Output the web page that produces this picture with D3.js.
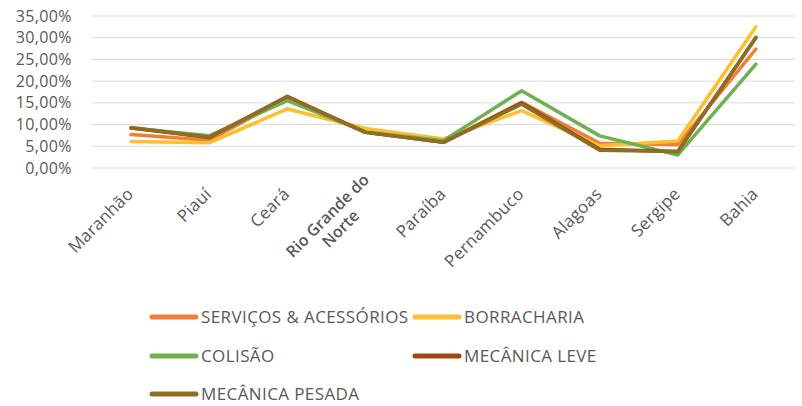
<!DOCTYPE html>
<html>
<head>
<meta charset="utf-8">
<script src="https://cdn.jsdelivr.net/npm/d3@7"></script>
<style>
  html, body { margin: 0; padding: 0; background: #fff; }
  svg { display: block; }
  text { font-family: "Open Sans", "Noto Sans", sans-serif; fill: #595959; }
</style>
</head>
<body>
<svg id="chart" width="802" height="406"></svg>
<script>
// States of the Northeast region
const categories = ["Maranhão", "Piauí", "Ceará", "Rio Grande do Norte", "Paraíba",
                    "Pernambuco", "Alagoas", "Sergipe", "Bahia"];

// Share per state (%) for each service segment
const servicosAcessorios = [7.7, 6.4, 16.2, 8.3, 6.0, 15.1, 5.7, 5.4, 27.4];
const borracharia        = [6.1, 5.8, 13.6, 9.1, 6.7, 13.2, 5.1, 6.2, 32.5];
const colisao            = [9.2, 7.4, 15.5, 8.3, 6.3, 17.8, 7.4, 3.0, 23.9];
const mecanicaLeve       = [9.2, 7.0, 16.5, 8.2, 5.9, 15.0, 4.3, 3.8, 30.0];
const mecanicaPesada     = [9.3, 7.1, 16.4, 8.2, 5.9, 14.7, 4.1, 3.8, 30.1];

const seriesNames  = ["SERVIÇOS & ACESSÓRIOS", "BORRACHARIA", "COLISÃO", "MECÂNICA LEVE", "MECÂNICA PESADA"];
const seriesValues = [servicosAcessorios, borracharia, colisao, mecanicaLeve, mecanicaPesada];
const seriesColors = ["#F07F35", "#FDBF2D", "#6FB04F", "#9E480E", "#8E6D24"];

const yTicks = [0, 5, 10, 15, 20, 25, 30, 35];

const svg = d3.select("#chart");
const plot = { left: 92, right: 795, top: 16, bottom: 168 };

const x = d3.scalePoint()
  .domain(categories)
  .range([plot.left, plot.right])
  .padding(0.5);

const y = d3.scaleLinear()
  .domain([0, 35])
  .range([plot.bottom, plot.top]);

const fmt = v => d3.format(".2f")(v).replace(".", ",") + "%";

// Horizontal gridlines
svg.append("g")
  .selectAll("line")
  .data(yTicks)
  .join("line")
  .attr("x1", plot.left).attr("x2", plot.right)
  .attr("y1", d => y(d)).attr("y2", d => y(d))
  .attr("stroke", "#D9D9D9")
  .attr("stroke-width", 1);

// Y axis labels
const yAxis = d3.axisLeft(y).tickValues(yTicks).tickFormat(fmt).tickSize(0).tickPadding(20);
const gy = svg.append("g").attr("transform", `translate(${plot.left},0)`).call(yAxis);
gy.select(".domain").remove();
gy.selectAll("text")
  .style("font-size", "16px")
  .style("letter-spacing", "0.4px")
  .style("fill", "#595959")
  .attr("font-family", null);

// Category labels, rotated
const gx = svg.append("g");
categories.forEach(c => {
  const bold = c === "Rio Grande do Norte";
  const lines = bold ? ["Rio Grande do", "Norte"] : [c];
  const t = gx.append("text")
    .attr("transform", bold
      ? `translate(${x(c) + 6},${plot.bottom + 14}) rotate(-45)`
      : `translate(${x(c) - 1},${plot.bottom + 23}) rotate(-45)`)
    .attr("text-anchor", "end")
    .style("font-size", bold ? "16px" : "17px")
    .style("letter-spacing", bold ? "0px" : "0.2px")
    .style("font-weight", bold ? "600" : "normal");
  lines.forEach((l, i) => {
    t.append("tspan")
      .attr("x", 0)
      .attr("dy", i === 0 ? (bold ? "-0.1em" : "0.35em") : "1.15em")
      .text(l);
  });
  if (bold) {
    // centre the second line under the first
    const tsp = t.selectAll("tspan").nodes();
    const w0 = tsp[0].getComputedTextLength();
    const w1 = tsp[1].getComputedTextLength();
    d3.select(tsp[1]).attr("x", -(w0 - w1) / 2);
  }
});

// Series lines
const line = d3.line()
  .x((d, i) => x(categories[i]))
  .y(d => y(d));

svg.append("g")
  .selectAll("path")
  .data(seriesValues)
  .join("path")
  .attr("d", d => line(d))
  .attr("fill", "none")
  .attr("stroke", (d, i) => seriesColors[i])
  .attr("stroke-width", 3.5)
  .attr("stroke-linejoin", "round")
  .attr("stroke-linecap", "round");

// Legend
const legendPos = [
  { x: 150, y: 317 }, { x: 413, y: 317 },
  { x: 150, y: 356 }, { x: 413, y: 356 },
  { x: 150, y: 394 }
];
const lg = svg.append("g");
seriesNames.forEach((name, i) => {
  const p = legendPos[i];
  lg.append("line")
    .attr("x1", p.x + 2).attr("x2", p.x + 46)
    .attr("y1", p.y).attr("y2", p.y)
    .attr("stroke", seriesColors[i])
    .attr("stroke-width", 5)
    .attr("stroke-linecap", "round");
  lg.append("text")
    .attr("x", p.x + 51)
    .attr("y", p.y)
    .attr("dy", "0.36em")
    .style("font-size", "17px")
    .style("letter-spacing", "0.4px")
    .text(name);
});
</script>
</body>
</html>
